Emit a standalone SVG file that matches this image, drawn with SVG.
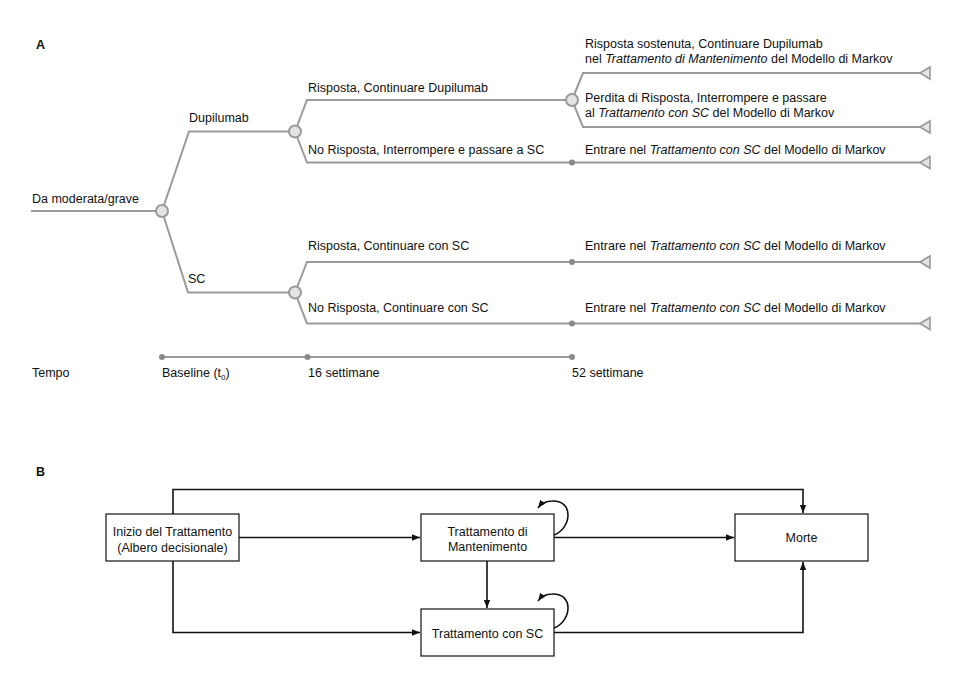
<svg xmlns="http://www.w3.org/2000/svg" width="975" height="687" viewBox="0 0 975 687">
<defs>
<style>
text{font-family:"Liberation Sans",Arial,sans-serif;font-size:12.5px;fill:#111}
.t{fill:none;stroke:#9a9a9a;stroke-width:2}
.c{fill:#e4e4e4;stroke:#9a9a9a;stroke-width:2}
.d{fill:#8a8a8a}
.tri{fill:#e4e4e4;stroke:#9a9a9a;stroke-width:1.6}
.b{fill:#fff;stroke:#111;stroke-width:1.2}
.l{fill:none;stroke:#111;stroke-width:1.6}
.h{font-weight:bold}
</style>
<marker id="ar" viewBox="0 0 10 10" refX="10" refY="5" markerWidth="8" markerHeight="8" markerUnits="userSpaceOnUse" orient="auto">
<path d="M0,1 L10,5 L0,9 z" fill="#111"/>
</marker>
</defs>
<rect width="975" height="687" fill="#fff"/>
<text x="36" y="49" class="h">A</text>
<text x="36" y="476" class="h">B</text>

<g id="tree-connectors">
<path class="t" d="M31,211 H162"/>
<path class="t" d="M162,211 L189,131.5 H295"/>
<path class="t" d="M162,211 L188,292.5 H295"/>
<path class="t" d="M295,131.5 L307,100 H572"/>
<path class="t" d="M295,131.5 L307,162.5 H922"/>
<path class="t" d="M572,100 L583,73 H922"/>
<path class="t" d="M572,100 L583,127 H922"/>
<path class="t" d="M295,292.5 L307,262 H922"/>
<path class="t" d="M295,292.5 L307,323.5 H922"/>
<path class="t" d="M162,357 H572"/>
</g>

<g id="node-root"><circle class="c" cx="162" cy="211" r="6"/><text x="32" y="203">Da moderata/grave</text></g>
<g id="node-dupilumab"><circle class="c" cx="295" cy="131.5" r="6"/><text x="189" y="122">Dupilumab</text></g>
<g id="node-sc"><circle class="c" cx="295" cy="292.5" r="6"/><text x="188" y="283">SC</text></g>
<g id="node-risposta"><circle class="c" cx="572" cy="100" r="6"/><text x="308" y="92">Risposta, Continuare Dupilumab</text></g>
<g id="node-norisposta"><circle class="d" cx="572" cy="162.5" r="3"/><text x="308" y="154">No Risposta, Interrompere e passare a SC</text></g>
<g id="node-sc-risposta"><circle class="d" cx="572" cy="262" r="3"/><text x="308" y="250">Risposta, Continuare con SC</text></g>
<g id="node-sc-norisposta"><circle class="d" cx="572" cy="323.5" r="3"/><text x="308" y="312">No Risposta, Continuare con SC</text></g>

<g id="term-1"><path class="tri" d="M920,73 L930,67 V79 z"/><text x="585" y="48">Risposta sostenuta, Continuare Dupilumab</text><text x="585" y="62.5">nel <tspan font-style="italic">Trattamento di Mantenimento</tspan> del Modello di Markov</text></g>
<g id="term-2"><path class="tri" d="M920,127 L930,121 V133 z"/><text x="585" y="102">Perdita di Risposta, Interrompere e passare</text><text x="585" y="116.5">al <tspan font-style="italic">Trattamento con SC</tspan> del Modello di Markov</text></g>
<g id="term-3"><path class="tri" d="M920,162.5 L930,156.5 V168.5 z"/><text x="585" y="154">Entrare nel <tspan font-style="italic">Trattamento con SC</tspan> del Modello di Markov</text></g>
<g id="term-4"><path class="tri" d="M920,262 L930,256 V268 z"/><text x="585" y="250">Entrare nel <tspan font-style="italic">Trattamento con SC</tspan> del Modello di Markov</text></g>
<g id="term-5"><path class="tri" d="M920,323.5 L930,317.5 V329.5 z"/><text x="585" y="312">Entrare nel <tspan font-style="italic">Trattamento con SC</tspan> del Modello di Markov</text></g>

<g id="timeline">
<circle class="d" cx="162" cy="357" r="3"/><circle class="d" cx="307.5" cy="357" r="3"/><circle class="d" cx="572" cy="357" r="3"/>
<text x="32" y="377">Tempo</text>
<text x="162" y="377">Baseline (t<tspan font-size="8" dy="3">0</tspan><tspan dy="-3">)</tspan></text>
<text x="308" y="377">16 settimane</text>
<text x="572" y="377">52 settimane</text>
</g>

<g id="connectors">
<path class="l" d="M173,514 V489.5 H803 V513" marker-end="url(#ar)"/>
<path class="l" d="M239,537.5 H420" marker-end="url(#ar)"/>
<path class="l" d="M173,561 V632.5 H420" marker-end="url(#ar)"/>
<path class="l" d="M554,537.5 H734" marker-end="url(#ar)"/>
<path class="l" d="M487,561 V608" marker-end="url(#ar)"/>
<path class="l" d="M554,632.5 H803 V562" marker-end="url(#ar)"/>
<path class="l" d="M554,535 C572,528 574,500 552,501 C546,501 541,504 538,508" marker-end="url(#ar)"/>
<path class="l" d="M554,628 C572,621 574,593 552,594 C546,594 541,597 538,601" marker-end="url(#ar)"/>
</g>

<g id="node-inizio"><rect class="b" x="106" y="514" width="133" height="47"/><text x="172.5" y="535.5" text-anchor="middle">Inizio del Trattamento</text><text x="172.5" y="551.5" text-anchor="middle">(Albero decisionale)</text></g>
<g id="node-mantenimento"><rect class="b" x="421" y="514" width="133" height="47"/><text x="487.5" y="536" text-anchor="middle">Trattamento di</text><text x="487.5" y="551" text-anchor="middle">Mantenimento</text></g>
<g id="node-trattsc"><rect class="b" x="421" y="609" width="133" height="47"/><text x="487.5" y="638" text-anchor="middle">Trattamento con SC</text></g>
<g id="node-morte"><rect class="b" x="735" y="514" width="133" height="47"/><text x="801.5" y="542" text-anchor="middle">Morte</text></g>
</svg>
